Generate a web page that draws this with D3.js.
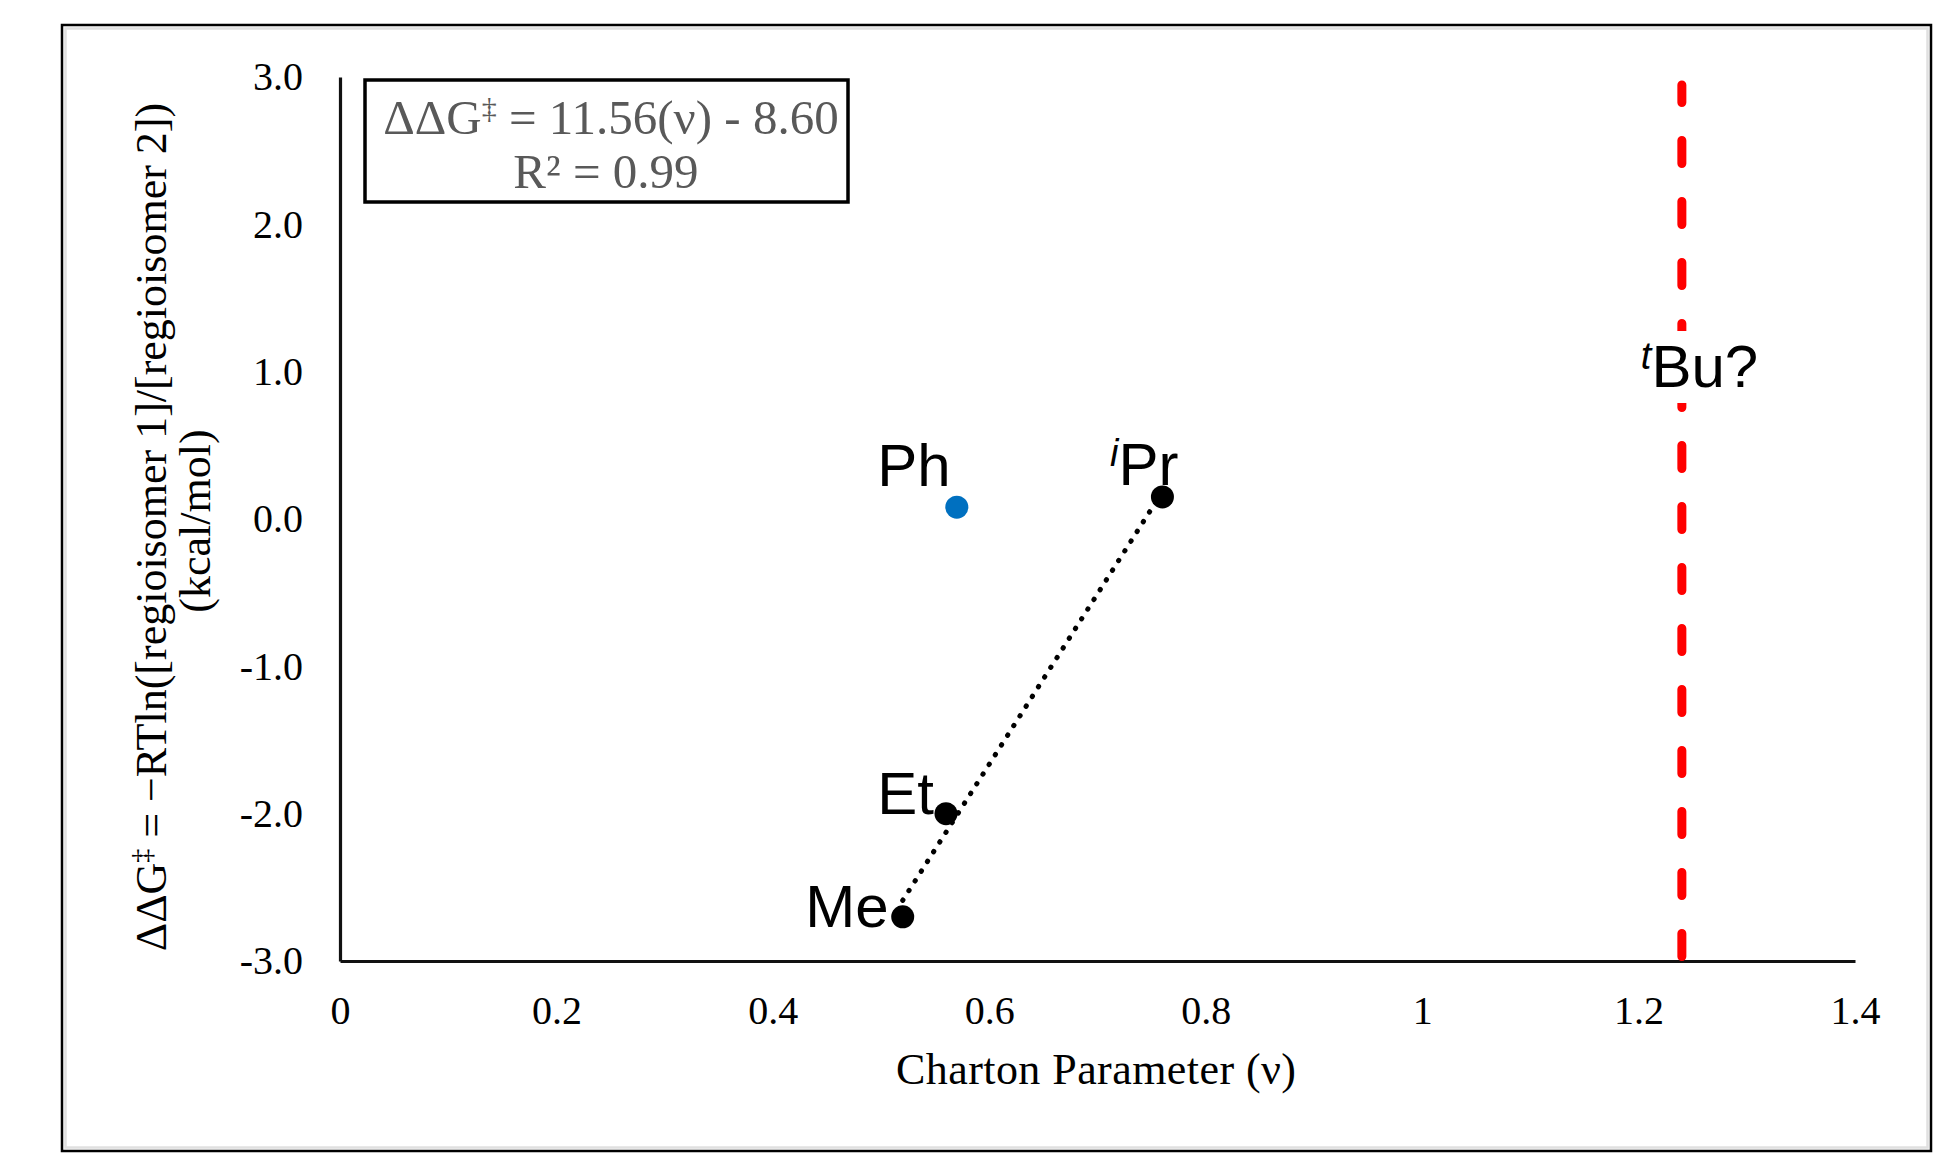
<!DOCTYPE html>
<html>
<head>
<meta charset="utf-8">
<script src="https://cdn.jsdelivr.net/npm/d3@7"></script>
<style>
  body { margin: 0; background: #fff; }
  svg { display: block; }
</style>
</head>
<body>
<svg width="1939" height="1153"></svg>
<script>
// data
const alkylNames = ['Me', 'Et', 'Pr']
const alkylPrefix = ['', '', 'i']
const alkylX = [0.52, 0.56, 0.76]
const alkylY = [-2.70, -2.00, 0.15]

const arylNames = ['Ph']
const arylX = [0.57]
const arylY = [0.08]

const fitSlope = 11.56
const fitIntercept = -8.60
const fitR2 = 0.99

const refName = 'Bu?'
const refPrefix = 't'
const refX = [1.24]

const xTicks = [0, 0.2, 0.4, 0.6, 0.8, 1, 1.2, 1.4]
const yTicks = [-3, -2, -1, 0, 1, 2, 3]

const serif = '"Liberation Serif", "Times New Roman", serif'
const sans = '"Liberation Sans", Arial, sans-serif'

// ΔΔG with a small raised double dagger
function ddgText(sel, size, rest) {
    sel.append('tspan').text('ΔΔG')
    sel.append('tspan').attr('font-size', size).attr('dy', -size * 0.55).text('‡')
    sel.append('tspan').attr('dy', size * 0.55).text(rest)
}

function drawChart() {
    const svg = d3.select('svg')

    // outer frame
    svg.append('rect')
        .attr('x', 62).attr('y', 25)
        .attr('width', 1869).attr('height', 1126)
        .attr('fill', '#fff')
        .attr('stroke', '#000')
        .attr('stroke-width', 2.5)
    svg.append('rect')
        .attr('x', 65.5).attr('y', 28.5)
        .attr('width', 1862).attr('height', 1119)
        .attr('fill', 'none')
        .attr('stroke', '#e0e0e0')
        .attr('stroke-width', 2.5)

    const x = d3.scaleLinear().domain([0, 1.4]).range([340, 1855])
    const y = d3.scaleLinear().domain([-3, 3]).range([961, 77])

    // axes
    const xAxis = svg.append('g')
        .attr('transform', `translate(0,${y(-3)})`)
        .call(d3.axisBottom(x).tickValues(xTicks).tickSize(0).tickSizeOuter(0).tickPadding(35)
            .tickFormat(d => String(d)))
    const yAxis = svg.append('g')
        .attr('transform', `translate(${x(0)},0)`)
        .call(d3.axisLeft(y).tickValues(yTicks).tickSize(0).tickSizeOuter(0).tickPadding(37)
            .tickFormat(d => d3.format('.1f')(d).replace('−', '-')))

    ;[xAxis, yAxis].forEach(ax => {
        ax.select('.domain').attr('stroke', '#111').attr('stroke-width', 3.2)
        ax.selectAll('text')
            .attr('fill', '#000')
            .style('font-family', serif)
            .style('font-size', '40px')
    })

    // axis titles
    svg.append('text')
        .attr('x', 1096).attr('y', 1084)
        .attr('text-anchor', 'middle')
        .attr('textLength', 400)
        .style('font-family', serif).style('font-size', '44px')
        .text('Charton Parameter (ν)')

    const yTitle = svg.append('text')
        .attr('transform', 'translate(166,527) rotate(-90)')
        .attr('text-anchor', 'middle')
        .style('font-family', serif).style('font-size', '44px')
    ddgText(yTitle, 28, ' = −RTln([regioisomer 1]/[regioisomer 2])')
    svg.append('text')
        .attr('transform', 'translate(210,521) rotate(-90)')
        .attr('text-anchor', 'middle')
        .style('font-family', serif).style('font-size', '44px')
        .text('(kcal/mol)')

    // red dashed reference line, drawn bottom-up so a dash sits on the axis
    svg.selectAll('.ref')
        .data(refX)
        .enter().append('line')
        .attr('class', 'ref')
        .attr('x1', d => x(d)).attr('x2', d => x(d))
        .attr('y1', y(-3) - 4.5).attr('y2', y(3) + 8)
        .attr('stroke', '#ff0000')
        .attr('stroke-width', 9)
        .attr('stroke-linecap', 'round')
        .attr('stroke-dasharray', '23,38')

    // label for reference, with white backing that hides the dashes
    const refLabel = svg.append('g')
    refLabel.append('rect')
        .attr('x', x(refX[0]) - 44).attr('y', 331)
        .attr('width', 126).attr('height', 72)
        .attr('fill', '#fff')
    const refText = refLabel.append('text')
        .attr('x', x(refX[0]) - 41).attr('y', 387)
        .style('font-family', sans).style('font-size', '60px')
    refText.append('tspan')
        .attr('font-style', 'italic').attr('font-size', '38px').attr('dy', -18)
        .text(refPrefix)
    refText.append('tspan')
        .attr('dy', 18)
        .text(refName)

    // linear fit across the alkyl series
    const fitX = d3.extent(alkylX)
    svg.append('line')
        .attr('x1', x(fitX[0])).attr('y1', y(fitSlope * fitX[0] + fitIntercept))
        .attr('x2', x(fitX[1])).attr('y2', y(fitSlope * fitX[1] + fitIntercept))
        .attr('stroke', '#000')
        .attr('stroke-width', 5)
        .attr('stroke-linecap', 'round')
        .attr('stroke-dasharray', '0.5,11')

    // points
    const alkyl = alkylNames.map((n, i) => ({ name: n, pre: alkylPrefix[i], x: alkylX[i], y: alkylY[i] }))
    const aryl = arylNames.map((n, i) => ({ name: n, x: arylX[i], y: arylY[i] }))

    svg.selectAll('.alkyl')
        .data(alkyl)
        .enter().append('circle')
        .attr('class', 'alkyl')
        .attr('cx', d => x(d.x)).attr('cy', d => y(d.y))
        .attr('r', 11.5)
        .attr('fill', '#000')

    svg.selectAll('.aryl')
        .data(aryl)
        .enter().append('circle')
        .attr('class', 'aryl')
        .attr('cx', d => x(d.x)).attr('cy', d => y(d.y))
        .attr('r', 11.5)
        .attr('fill', '#0070c0')

    // point labels: offsets from the point, anchor
    const labelPos = {
        Me: [-14, 10, 'end'],
        Et: [-12, 0, 'end'],
        Pr: [16, -12, 'end'],
        Ph: [-43, -21, 'middle']
    }
    alkyl.concat(aryl).forEach(d => {
        const p = labelPos[d.name]
        const t = svg.append('text')
            .attr('x', x(d.x) + p[0]).attr('y', y(d.y) + p[1])
            .attr('text-anchor', p[2])
            .style('font-family', sans).style('font-size', '60px')
        if (d.pre) {
            t.append('tspan')
                .attr('font-style', 'italic').attr('font-size', '38px').attr('dy', -19)
                .text(d.pre)
            t.append('tspan').attr('dy', 19).text(d.name)
        } else {
            t.text(d.name)
        }
    })

    // equation box
    svg.append('rect')
        .attr('x', 365).attr('y', 80)
        .attr('width', 483).attr('height', 122)
        .attr('fill', '#fff')
        .attr('stroke', '#000')
        .attr('stroke-width', 3.5)
    const eq = svg.append('text')
        .attr('x', 611).attr('y', 134)
        .attr('text-anchor', 'middle')
        .attr('fill', '#595959')
        .style('font-family', serif).style('font-size', '49px')
    ddgText(eq, 30, ` = ${fitSlope.toFixed(2)}(ν) - ${Math.abs(fitIntercept).toFixed(2)}`)
    svg.append('text')
        .attr('x', 606).attr('y', 188)
        .attr('text-anchor', 'middle')
        .attr('fill', '#595959')
        .style('font-family', serif).style('font-size', '49px')
        .text(`R² = ${fitR2.toFixed(2)}`)
}

drawChart()
</script>
</body>
</html>
